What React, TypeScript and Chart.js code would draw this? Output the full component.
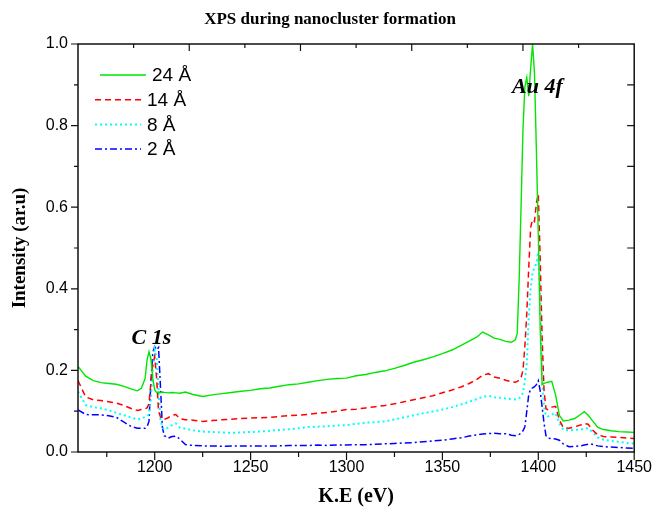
import React, { useEffect, useRef } from "react";
import { Chart, registerables } from "chart.js";
Chart.register(...registerables);

const energy = [
  1160, 1164, 1168, 1172, 1176, 1180, 1184, 1188, 1191, 1193,
  1195, 1196, 1197, 1198, 1199, 1200, 1201, 1202, 1203, 1204,
  1205, 1207, 1209, 1211, 1213, 1216, 1220, 1225, 1230, 1235,
  1240, 1245, 1250, 1255, 1260, 1265, 1270, 1275, 1280, 1285,
  1290, 1295, 1300, 1305, 1310, 1315, 1320, 1325, 1330, 1335,
  1340, 1345, 1350, 1355, 1360, 1364, 1368, 1371, 1374, 1377,
  1380, 1383, 1386, 1388, 1389, 1390, 1391, 1392, 1393, 1394,
  1395, 1396, 1397, 1398, 1399, 1400, 1401, 1402, 1403, 1404,
  1405, 1407, 1409, 1411, 1413, 1416, 1419, 1422, 1424, 1426,
  1428, 1431, 1434, 1438, 1442, 1446, 1450,
];

const s24 = [
  0.210, 0.186, 0.175, 0.170, 0.168, 0.166, 0.161, 0.154, 0.150, 0.156,
  0.180, 0.225, 0.246, 0.228, 0.180, 0.152, 0.146, 0.147, 0.146, 0.147,
  0.146, 0.145, 0.146, 0.145, 0.144, 0.147, 0.141, 0.136, 0.140, 0.143,
  0.146, 0.149, 0.151, 0.155, 0.157, 0.161, 0.165, 0.167, 0.171, 0.175,
  0.178, 0.180, 0.181, 0.187, 0.190, 0.195, 0.199, 0.205, 0.212, 0.220,
  0.226, 0.233, 0.241, 0.250, 0.262, 0.272, 0.282, 0.294, 0.287, 0.279,
  0.276, 0.271, 0.269, 0.275, 0.290, 0.420, 0.600, 0.790, 0.895, 0.918,
  0.872, 0.940, 1.000, 0.930, 0.740, 0.530, 0.300, 0.165, 0.168, 0.170,
  0.171, 0.173, 0.140, 0.090, 0.076, 0.078, 0.082, 0.092, 0.099, 0.090,
  0.078, 0.060, 0.055, 0.052, 0.050, 0.049, 0.048,
];

const s14 = [
  0.175, 0.135, 0.128, 0.126, 0.123, 0.120, 0.114, 0.106, 0.102, 0.104,
  0.106, 0.108, 0.118, 0.170, 0.215, 0.234, 0.180, 0.100, 0.086, 0.080,
  0.080, 0.084, 0.090, 0.092, 0.082, 0.079, 0.078, 0.075, 0.077, 0.079,
  0.080, 0.082, 0.083, 0.084, 0.085, 0.087, 0.089, 0.090, 0.092, 0.095,
  0.097, 0.100, 0.104, 0.105, 0.108, 0.111, 0.114, 0.118, 0.123, 0.128,
  0.133, 0.138, 0.145, 0.152, 0.160, 0.168, 0.178, 0.188, 0.192, 0.184,
  0.181, 0.176, 0.172, 0.171, 0.173, 0.176, 0.182, 0.200, 0.260, 0.340,
  0.450, 0.550, 0.570, 0.565, 0.610, 0.632, 0.470, 0.280, 0.150, 0.106,
  0.104, 0.110, 0.112, 0.078, 0.060, 0.058, 0.062, 0.066, 0.070, 0.068,
  0.055, 0.042, 0.038, 0.037, 0.036, 0.034, 0.033,
];

const s8 = [
  0.148, 0.115, 0.110, 0.107, 0.102, 0.096, 0.090, 0.084, 0.080, 0.082,
  0.086, 0.088, 0.092, 0.130, 0.200, 0.250, 0.230, 0.150, 0.080, 0.060,
  0.055, 0.060, 0.066, 0.070, 0.060, 0.057, 0.053, 0.050, 0.049, 0.048,
  0.047, 0.048, 0.049, 0.050, 0.052, 0.054, 0.056, 0.058, 0.061, 0.062,
  0.063, 0.065, 0.066, 0.069, 0.072, 0.073, 0.075, 0.080, 0.085, 0.090,
  0.095, 0.099, 0.104, 0.110, 0.117, 0.123, 0.130, 0.135, 0.138, 0.134,
  0.133, 0.131, 0.130, 0.129, 0.130, 0.132, 0.136, 0.145, 0.175, 0.217,
  0.330, 0.400, 0.440, 0.452, 0.462, 0.490, 0.380, 0.180, 0.110, 0.088,
  0.087, 0.092, 0.095, 0.070, 0.055, 0.053, 0.054, 0.055, 0.057, 0.058,
  0.050, 0.036, 0.030, 0.027, 0.025, 0.022, 0.021,
];

const s2 = [
  0.103, 0.092, 0.091, 0.091, 0.089, 0.085, 0.073, 0.062, 0.058, 0.058,
  0.058, 0.062, 0.075, 0.170, 0.245, 0.258, 0.250, 0.256, 0.160, 0.060,
  0.040, 0.034, 0.038, 0.039, 0.032, 0.018, 0.016, 0.015, 0.015, 0.014,
  0.015, 0.015, 0.015, 0.015, 0.015, 0.015, 0.016, 0.016, 0.016, 0.017,
  0.016, 0.017, 0.017, 0.018, 0.018, 0.019, 0.020, 0.021, 0.022, 0.023,
  0.025, 0.027, 0.029, 0.032, 0.035, 0.039, 0.042, 0.044, 0.045, 0.046,
  0.045, 0.045, 0.041, 0.040, 0.041, 0.043, 0.046, 0.052, 0.062, 0.100,
  0.140, 0.155, 0.157, 0.160, 0.165, 0.175, 0.150, 0.110, 0.070, 0.040,
  0.034, 0.033, 0.032, 0.029, 0.020, 0.013, 0.014, 0.015, 0.017, 0.019,
  0.019, 0.015, 0.013, 0.012, 0.011, 0.010, 0.009,
];

const seriesLabels = ["24 Å", "14 Å", "8 Å", "2 Å"];
const chartTitle = "XPS during nanocluster formation";
const xTitle = "K.E (eV)";
const yTitle = "Intensity (ar.u)";
const peakLabels = [
  { text: "C 1s", x: 1198.3, y: 0.279 },
  { text: "Au 4f", x: 1399.5, y: 0.893 },
];

const SANS = '"Liberation Sans", Arial, sans-serif';
const SERIF = '"Liberation Serif", "Times New Roman", serif';

export default function App() {
  const ref = useRef<HTMLCanvasElement>(null);

  useEffect(() => {
    const canvas = ref.current;
    if (!canvas) return;
    const all = [s24, s14, s8, s2];
    const styles = [
      { color: "#00e600", dash: [] as number[], width: 1.4 },
      { color: "#ff0000", dash: [6, 4], width: 1.5 },
      { color: "#00ffff", dash: [2, 3], width: 2 },
      { color: "#0000ff", dash: [7, 3, 2, 3], width: 1.5 },
    ];

    const framePlugin = {
      id: "frame",
      afterDatasetsDraw(chart: any) {
        const { ctx, chartArea: a, scales, width } = chart;
        const xs = scales.x;
        const ys = scales.y;
        ctx.save();

        // title
        ctx.fillStyle = "#000";
        ctx.font = `bold 17px ${SERIF}`;
        ctx.textAlign = "center";
        ctx.textBaseline = "middle";
        ctx.fillText(chartTitle, width / 2 + 1, 20);

        ctx.strokeStyle = "#111";
        ctx.lineWidth = 1.5;
        ctx.setLineDash([]);
        ctx.strokeRect(a.left, a.top, a.right - a.left, a.bottom - a.top);
        ctx.lineWidth = 1.2;
        ctx.beginPath();
        for (let v = 1175; v <= 1450; v += 25) {
          const px = xs.getPixelForValue(v);
          const len = v % 50 === 0 ? 8 : 5;
          ctx.moveTo(px, a.bottom);
          ctx.lineTo(px, a.bottom + len);
        }
        for (let i = 0; i <= 10; i++) {
          const py = ys.getPixelForValue(i / 10);
          const len = i % 2 === 0 ? 7 : 4;
          ctx.moveTo(a.left, py);
          ctx.lineTo(a.left - len, py);
          if (i > 0 && i < 10) {
            ctx.moveTo(a.right, py);
            ctx.lineTo(a.right - 7, py);
          }
        }
        for (let i = 1; i < 10; i++) {
          const px = a.left + ((a.right - a.left) * i) / 10;
          const len = i % 2 === 0 ? 7 : 4;
          ctx.moveTo(px, a.top);
          ctx.lineTo(px, a.top + len);
        }
        ctx.stroke();

        // peak annotations
        ctx.fillStyle = "#000";
        ctx.font = `italic bold 22px ${SERIF}`;
        ctx.textAlign = "center";
        ctx.textBaseline = "middle";
        peakLabels.forEach((p) => {
          ctx.fillText(p.text, xs.getPixelForValue(p.x), ys.getPixelForValue(p.y));
        });

        // legend
        ctx.font = `19px ${SANS}`;
        ctx.textAlign = "left";
        styles.forEach((s, i) => {
          const y = a.top + 31 + i * 24.7;
          const x0 = a.left + (i === 0 ? 22 : 17);
          ctx.strokeStyle = s.color;
          ctx.lineWidth = s.width;
          ctx.setLineDash(s.dash);
          ctx.beginPath();
          ctx.moveTo(x0, y);
          ctx.lineTo(x0 + 46, y);
          ctx.stroke();
          ctx.setLineDash([]);
          ctx.fillStyle = "#000";
          ctx.fillText(seriesLabels[i], x0 + 52, y + 1);
        });
        ctx.restore();
      },
    };

    const chart = new Chart(canvas, {
      type: "scatter",
      data: {
        datasets: all.map((ys, i) => ({
          label: seriesLabels[i],
          data: energy.map((x, j) => ({ x, y: ys[j] })),
          showLine: true,
          borderColor: styles[i].color,
          backgroundColor: styles[i].color,
          borderDash: styles[i].dash,
          borderWidth: styles[i].width,
          pointRadius: 0,
          pointHoverRadius: 0,
          fill: false,
          tension: 0,
        })),
      },
      options: {
        responsive: false,
        animation: false,
        events: [],
        layout: { padding: { left: 0, right: 20, top: 44, bottom: 0 } },
        plugins: {
          legend: { display: false },
          tooltip: { enabled: false },
          title: { display: false },
        },
        scales: {
          x: {
            type: "linear",
            position: "bottom",
            min: 1160,
            max: 1450,
            afterFit: (s: any) => {
              s.height = 60;
            },
            afterBuildTicks: (s: any) => {
              s.ticks = s.ticks.filter((t: any) => t.value % 50 === 0);
            },
            grid: { display: false, drawTicks: false },
            border: { display: false },
            ticks: {
              stepSize: 50,
              autoSkip: false,
              maxRotation: 0,
              padding: 6,
              color: "#000",
              font: { family: SANS, size: 16 },
              callback: (v: any) => String(Math.round(Number(v))),
            },
            title: {
              display: true,
              text: xTitle,
              color: "#000",
              font: { family: SERIF, size: 20, weight: "bold" },
              padding: { top: 0, bottom: 3 },
            },
          },
          y: {
            type: "linear",
            position: "left",
            min: 0,
            max: 1,
            afterFit: (s: any) => {
              s.width = 78;
            },
            grid: { display: false, drawTicks: false },
            border: { display: false },
            ticks: {
              stepSize: 0.2,
              padding: 10,
              color: "#000",
              font: { family: SANS, size: 16 },
              callback: (v: any) => Number(v).toFixed(1),
            },
            title: {
              display: true,
              text: yTitle,
              color: "#000",
              font: { family: SERIF, size: 19, weight: "bold" },
              padding: { top: 9, bottom: 0 },
            },
          },
        },
      },
      plugins: [framePlugin],
    } as any);

    return () => chart.destroy();
  }, []);

  return (
    <div style={{ position: "absolute", left: 0, top: 0, width: 658, height: 512, background: "#fff" }}>
      <canvas ref={ref} width={658} height={512} style={{ display: "block" }} />
    </div>
  );
}
